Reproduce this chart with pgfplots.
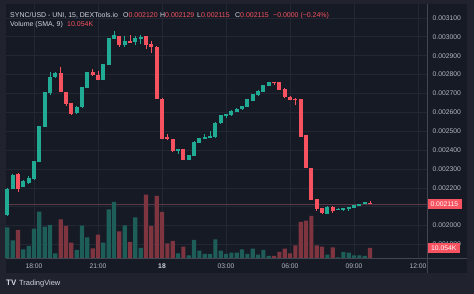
\documentclass[border=0pt]{standalone}
\usepackage{pgfplots}
\pgfplotsset{compat=1.18}
\usepackage{pgfplotstable}
\usepackage{fontspec}
\setmainfont{Liberation Sans}
\definecolor{bgchart}{HTML}{161A25}
\definecolor{bgframe}{HTML}{20232E}
\definecolor{gridc}{HTML}{232734}
\definecolor{borderc}{HTML}{434651}
\definecolor{txt}{HTML}{B2B5BE}
\definecolor{txthead}{HTML}{D1D4DC}
\definecolor{up}{HTML}{22AB94}
\definecolor{down}{HTML}{F7525F}
\definecolor{upvol}{HTML}{1D5E58}
\definecolor{downvol}{HTML}{7E3540}
\definecolor{pline}{HTML}{5A3A46}

% i = 15-min candle index from 18:00; prices in 1e-6; v = volume (K)
\pgfplotstableread{
i o h l c v
-5 2055 2200 2050 2195 30.7
-4 2195 2275 2192 2270 17.7
-2 2206 2240 2204 2238 8.7
-1 2224 2263 2222 2252 12
0 2245 2343 2243 2341 29.3
1 2337 2530 2335 2528 46.3
2 2524 2710 2522 2708 31.3
3 2701 2814 2690 2786 33
4 2786 2812 2784 2810 4.7
8 2595 2633 2592 2630 8
9 2627 2735 2625 2733 32.3
10 2729 2816 2727 2814 20.7
13 2771 2858 2769 2856 15.3
14 2852 2996 2850 2994 48.7
15 2990 3029 2988 3008 56
17 2958 3004 2948 2979 32.7
19 2972 3004 2958 2994 40.7
20 2987 3008 2962 3001 10
27 2394 2406 2379 2404 4.7
29 2348 2374 2346 2372 2.7
30 2369 2446 2367 2443 18
31 2440 2466 2438 2464 7.3
32 2462 2485 2460 2471 4
33 2466 2500 2464 2475 4
34 2468 2548 2466 2545 18.7
35 2542 2586 2540 2584 7.3
36 2581 2593 2570 2591 4
37 2584 2611 2582 2609 5.3
38 2602 2621 2600 2619 5.3
39 2616 2636 2614 2634 8.7
40 2630 2671 2628 2669 4
41 2662 2699 2660 2697 9.3
42 2690 2717 2688 2715 3.3
43 2708 2745 2706 2743 8
44 2739 2763 2737 2761 2
55 2062 2102 2060 2100 3.3
57 2083 2092 2081 2090 0.7
58 2083 2095 2076 2093 6
59 2086 2099 2079 2097 5.3
60 2093 2110 2091 2108 2.7
61 2104 2117 2102 2115 2.7
62 2115 2127 2113 2125 2
}\upT

\pgfplotstableread{
i o h l c v
-3 2273 2278 2178 2195 28
5 2810 2842 2705 2708 38.7
6 2708 2710 2634 2644 32
7 2648 2650 2588 2591 15.3
11 2814 2828 2794 2796 9.7
12 2799 2820 2769 2771 23.3
16 3004 3006 2944 2955 26.7
18 2976 3008 2966 2969 16
21 3004 3006 2934 2958 63.3
22 2962 2979 2913 2948 32
23 2948 2950 2670 2672 62
24 2672 2676 2458 2460 46
25 2468 2485 2455 2457 14.7
26 2457 2459 2392 2394 17
28 2404 2406 2346 2348 11.3
45 2761 2763 2747 2757 2
46 2761 2763 2716 2718 6
47 2725 2727 2678 2680 9.3
48 2683 2685 2663 2665 4.7
49 2672 2674 2637 2665 12.7
50 2669 2671 2469 2471 36
51 2478 2480 2303 2305 37.3
52 2305 2307 2134 2136 42
53 2139 2141 2076 2086 12.7
54 2093 2095 2063 2065 11.3
56 2100 2102 2068 2079 10.7
63 2120 2129 2115 2115 10.054
}\downT

\begin{document}
\begin{tikzpicture}
\fill[bgframe] (0bp,0bp) rectangle (474bp,294bp);
\fill[bgchart] (6bp,21bp) rectangle (467bp,290bp);

\begin{axis}[
  at={(6bp,36bp)}, anchor=south west,
  scale only axis, width=421bp, height=254bp,
  xmin=-1.3125, xmax=18.42, ymin=1828.5, ymax=3173.7,
  axis line style={draw=none},
  major tick length=0pt,
  xtick={0,3,6,9,12,15,18},
  xticklabels={18:00,21:00,{\textbf{\color{txthead}18}},03:00,06:00,09:00,12:00},
  ytick={1900,2000,2100,2200,2300,2400,2500,2600,2700,2800,2900,3000,3100},
  yticklabels={0.001900,0.002000,{},0.002200,0.002300,0.002400,0.002500,0.002600,0.002700,0.002800,0.002900,0.003000,0.003100},
  yticklabel pos=right,
  grid=major, grid style={gridc, line width=0.6bp},
  tick label style={font=\fontsize{6.8}{8}\selectfont, text=txt, inner sep=0pt},
  xticklabel style={anchor=north, yshift=-5.5bp},
  yticklabel style={anchor=west, xshift=5.5bp},
  clip=false,
]
\addplot[pline, line width=0.6bp, forget plot] coordinates {(-1.3125,2115) (18.42,2115)};
% wicks
\addplot[draw=none, mark=none, forget plot, error bars/.cd, y dir=both, y explicit, error mark=none,
  error bar style={draw=up, solid, line width=0.9bp}]
  table[x expr=\thisrow{i}*0.25, y expr=(\thisrow{h}+\thisrow{l})/2, y error expr=(\thisrow{h}-\thisrow{l})/2]{\upT};
\addplot[draw=none, mark=none, forget plot, error bars/.cd, y dir=both, y explicit, error mark=none,
  error bar style={draw=down, solid, line width=0.9bp}]
  table[x expr=\thisrow{i}*0.25, y expr=(\thisrow{h}+\thisrow{l})/2, y error expr=(\thisrow{h}-\thisrow{l})/2]{\downT};
% bodies
\addplot[draw=none, mark=none, forget plot, error bars/.cd, y dir=both, y explicit, error mark=none,
  error bar style={draw=up, solid, line width=4bp}]
  table[x expr=\thisrow{i}*0.25, y expr=(\thisrow{o}+\thisrow{c})/2, y error expr={max(abs(\thisrow{c}-\thisrow{o})/2,3)}]{\upT};
\addplot[draw=none, mark=none, forget plot, error bars/.cd, y dir=both, y explicit, error mark=none,
  error bar style={draw=down, solid, line width=4bp}]
  table[x expr=\thisrow{i}*0.25, y expr=(\thisrow{o}+\thisrow{c})/2, y error expr={max(abs(\thisrow{c}-\thisrow{o})/2,3)}]{\downT};
\node[fill=down, text=white, font=\fontsize{6.8}{8}\selectfont, inner xsep=3.3bp, inner ysep=2.2bp, anchor=west]
  at (axis cs:18.42,2115) {0.002115};
\end{axis}

\begin{axis}[
  at={(6bp,36bp)}, anchor=south west,
  scale only axis, width=421bp, height=254bp,
  xmin=-1.3125, xmax=18.42, ymin=0, ymax=254,
  hide axis, clip=false,
  ybar, bar width=4.2bp,
]
\addplot[fill=upvol, draw=none, bar shift=0pt] table[x expr=\thisrow{i}*0.25, y=v]{\upT};
\addplot[fill=downvol, draw=none, bar shift=0pt] table[x expr=\thisrow{i}*0.25, y=v]{\downT};
\node[fill=down, text=white, font=\fontsize{6.8}{8}\selectfont, inner xsep=4bp, inner ysep=2.2bp, anchor=west]
  at (axis cs:18.42,10) {10.054K};
\end{axis}

% borders
\draw[borderc, line width=0.7bp] (6bp,36bp) -- (467bp,36bp);
\draw[borderc, line width=0.7bp] (427bp,21bp) -- (427bp,290bp);

% header
\begin{scope}[every node/.style={inner sep=0pt, anchor=base west, font=\fontsize{7}{8}\selectfont}]
\node[text=txthead] at (10bp,276.5bp) {SYNC/USD - UNI, 15, DEXTools.io};
\node[text=txthead] at (123bp,276.5bp) {O\textcolor{down}{0.002120}};
\node[text=txthead] at (160bp,276.5bp) {H\textcolor{down}{0.002129}};
\node[text=txthead] at (197bp,276.5bp) {L\textcolor{down}{0.002115}};
\node[text=txthead] at (235bp,276.5bp) {C\textcolor{down}{0.002115}};
\node[text=down] at (273bp,276.5bp) {−0.0000 (−0.24\%)};
\node[text=txthead] at (10bp,267.2bp) {Volume (SMA, 9)};
\node[text=down] at (67bp,267.2bp) {10.054K};
\node[text=txthead, font=\fontsize{8}{9}\selectfont\bfseries] at (6bp,8.5bp) {TV};
\node[text=txthead, font=\fontsize{7.5}{9}\selectfont] at (19bp,8.5bp) {TradingView};
\end{scope}
\end{tikzpicture}
\end{document}
